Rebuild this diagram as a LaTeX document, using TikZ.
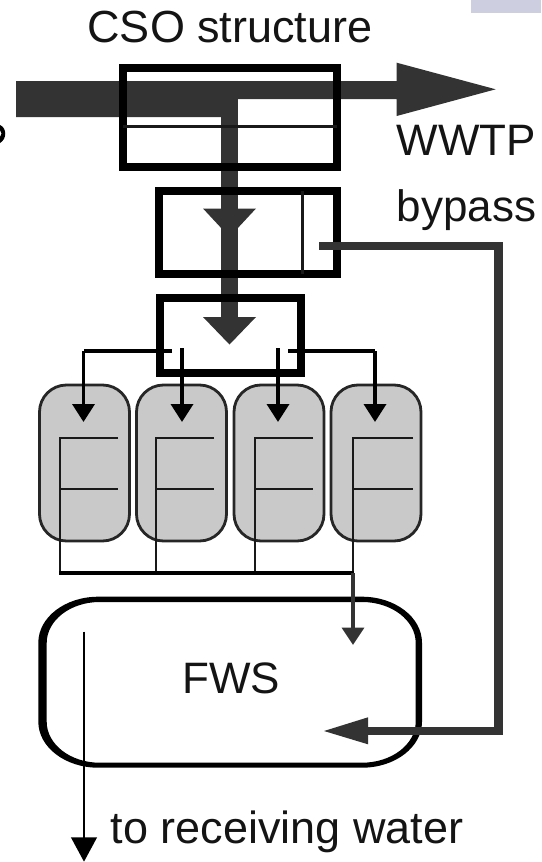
\documentclass[tikz,border=0pt]{standalone}
\usepackage{fontspec}
\setmainfont{Liberation Sans}
\usetikzlibrary{arrows.meta}
\definecolor{darkflow}{HTML}{333333}
\definecolor{tankgray}{HTML}{C9C9C9}
\definecolor{cornerblue}{HTML}{CDCEDF}
\tikzset{
  heavybox/.style={draw=black,line width=8pt,inner sep=0pt,outer sep=0pt,fill=none},
  tank/.style={draw=black!85,line width=2.8pt,fill=tankgray,rounded corners=27pt,inner sep=0pt,outer sep=0pt,minimum width=90pt,minimum height=156pt},
  label/.style={inner sep=0pt,outer sep=0pt,anchor=base west,font=\fontsize{44}{50}\selectfont,text=black!92},
  widelabel/.style={label,font=\fontsize{45}{50}\selectfont},
  branch/.style={draw=black,line width=3.6pt,-{Triangle[length=18pt,width=22pt]}},
  stub/.style={draw=black,line width=3.6pt},
  thinline/.style={draw=black!90,line width=2.8pt},
  collector/.style={draw=black,line width=3.6pt},
  darkshaft/.style={draw=darkflow,line width=17pt},
  darkhead/.style={fill=darkflow,draw=none},
}
\begin{document}
\begin{tikzpicture}[x=1pt,y=-1pt]
\useasboundingbox (0,0) rectangle (541,862);
% scraps at the picture's edge
\fill[cornerblue] (471,0) rectangle (541,12.7);
\fill[black] (0,125) .. controls (7,128) and (7,139) .. (0,143) -- (0,137) .. controls (2,135) and (2,132) .. (0,130) -- cycle;
% tanks
\node[tank] (t1) at (84.5,463) {};
\node[tank] (t2) at (181.5,463) {};
\node[tank] (t3) at (279,463) {};
\node[tank] (t4) at (376,463) {};
% dark main flow
\coordinate (shafttop) at (229.2,95);
\coordinate (shaftend) at (229.2,325);
\draw[darkshaft] (shafttop) -- (shaftend);
\fill[darkhead] (16,81) -- (396.7,81) -- (396.7,62.7) -- (495.7,89.3) -- (396.7,116) -- (396.7,99) -- (229,99) -- (229,117) -- (16,117) -- cycle;
\fill[darkhead] (203,208.5) -- (256,208.5) -- (229.5,237) -- cycle;
\fill[darkhead] (203,317) -- (256,317) -- (229.5,344.5) -- cycle;
% boxes
\node[heavybox,minimum width=214pt,minimum height=98.7pt] (cso) at (230,117.35) {};
\draw[thinline,line width=3pt] (cso.west |- 0,126) -- (cso.east |- 0,126);
\node[heavybox,minimum width=178pt,minimum height=83pt] (div) at (248,232.2) {};
\coordinate (divtop) at (302.3,191);
\coordinate (divbot) at (302.3,274);
\draw[thinline,line width=3pt] (divtop) -- (divbot);
\node[heavybox,minimum width=141pt,minimum height=75pt] (dist) at (230.5,335.5) {};
% branches to tanks
\coordinate (bl) at (172,351);
\coordinate (br) at (288,351);
\coordinate (tl) at (83.5,351);
\coordinate (tr) at (375,351);
\draw[stub] (bl) -- (tl);
\draw[branch] (tl) -- (83.5,422);
\draw[stub] (br) -- (tr);
\draw[branch] (tr) -- (375,422);
\draw[branch] (182,348) -- (182,422);
\draw[branch] (278,348) -- (278,422);
% tank internals
\foreach \n/\x/\e in {a/60/118,b/156/214,c/255/313,d/353/413}{
  \coordinate (\n-top) at (\x,438);
  \coordinate (\n-mid) at (\x,489);
  \coordinate (\n-bot) at (\x,573);
  \draw[thinline] (\e,438) -- (\n-top) -- (\n-bot);
  \draw[thinline] (\n-mid) -- (\e,489);
}
\draw[collector] ([xshift=-1pt]a-bot) -- ([xshift=1pt]d-bot);
% wetland
\fill[black,even odd rule] (38.3,642.7) arc[start angle=180,end angle=270,x radius=60,y radius=46] -- (362,596.7) arc[start angle=-90,end angle=0,x radius=60,y radius=46] -- (422,721.7) arc[start angle=0,end angle=90,x radius=60,y radius=46] -- (98.3,767.7) arc[start angle=90,end angle=180,x radius=60,y radius=46] -- cycle
 (46.7,643) arc[start angle=180,end angle=270,x radius=53,y radius=41] -- (362,602) arc[start angle=-90,end angle=0,x radius=53.7,y radius=41] -- (415.7,721.7) arc[start angle=0,end angle=90,x radius=53.7,y radius=41] -- (99.7,762.7) arc[start angle=90,end angle=180,x radius=53,y radius=41] -- cycle;
\node[label,anchor=base] (fws) at (231,693.7) {FWS};
% flow into wetland
\draw[draw=darkflow,line width=4pt,-{Triangle[length=17.3pt,width=21.6pt]}] (d-bot) -- (353,645);
% bypass
\coordinate (bystart) at (319.3,246);
\coordinate (bycorner) at (498.3,246);
\coordinate (bylow) at (498.3,731);
\fill[darkhead] (368,717.3) -- (368,744.3) -- (324,731) -- cycle;
\draw[draw=darkflow,line width=8.6pt] (bystart) -- (bycorner) -- (bylow) -- (366,731);
% outlet
\coordinate (outa) at (84,631.7);
\coordinate (outb) at (84,861.7);
\draw[draw=black,line width=2.6pt,-{Triangle[length=24.4pt,width=25.6pt]}] (outa) -- (outb);
% labels
\node[widelabel] (lcso) at (87.5,42) {CSO structure};
\node[label] (lwwtp) at (396.7,155) {WWTP};
\node[label] (lby) at (396.7,221.7) {bypass};
\node[widelabel] (lrec) at (110.7,843.3) {to receiving water};
\end{tikzpicture}
\end{document}
